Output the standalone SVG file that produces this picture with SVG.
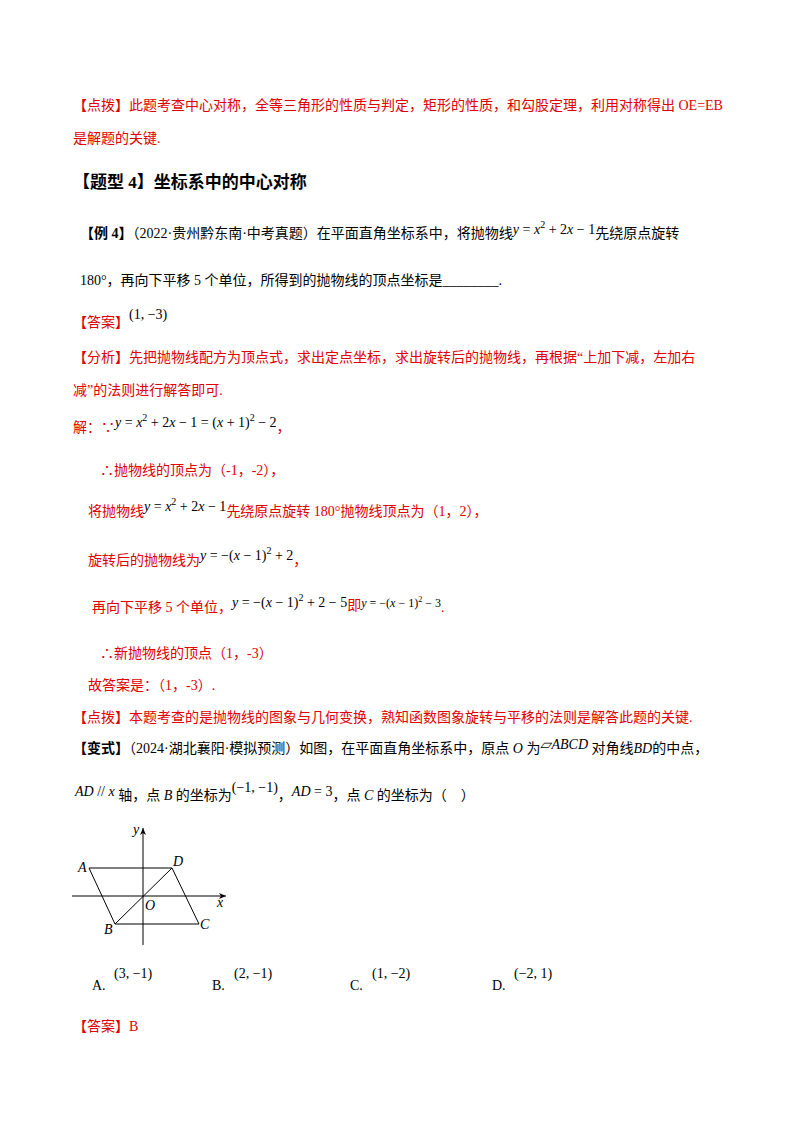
<svg xmlns="http://www.w3.org/2000/svg" width="800" height="1132" viewBox="0 0 800 1132">
<style>
text{font-family:"Liberation Serif","Noto Sans CJK SC",serif;font-size:14px;fill:#000}
.r{fill:#e00000}
.b{font-weight:bold}
.m{font-family:"Liberation Serif",serif;font-style:italic}
.n{font-family:"Liberation Serif",serif;font-style:normal}
.s{font-size:10px}
.ln{stroke:#000;stroke-width:1;fill:none}
</style>
<defs><marker id="ar" markerWidth="8" markerHeight="8" refX="7" refY="4" orient="auto"><path d="M0,1 L7,4 L0,7 L2,4 Z" fill="#000"/></marker></defs>
<rect width="800" height="1132" fill="#fff"/>
<text x="73" y="110" class="r">【点拨】此题考查中心对称，全等三角形的性质与判定，矩形的性质，和勾股定理，利用对称得出 OE=EB</text>
<text x="73" y="143" class="r">是解题的关键.</text>
<text x="73" y="188" class="b" style="font-size:17px">【题型 4】坐标系中的中心对称</text>
<text x="80" y="238"><tspan class="b">【例 4】</tspan>（2022·贵州黔东南·中考真题）在平面直角坐标系中，将抛物线<tspan class="m" dy="-4">y</tspan><tspan class="n"> = </tspan><tspan class="m">x</tspan><tspan class="s" dy="-6">2</tspan><tspan class="n" dy="6"> + 2</tspan><tspan class="m">x</tspan><tspan class="n"> − 1</tspan><tspan dy="4">先绕原点旋转</tspan></text>
<text x="80" y="285">180°，再向下平移 5 个单位，所得到的抛物线的顶点坐标是________.</text>
<text x="73" y="327" class="r">【答案】<tspan class="n" fill="#000" dy="-8">(1, −3)</tspan></text>
<text x="73" y="362" class="r">【分析】先把抛物线配方为顶点式，求出定点坐标，求出旋转后的抛物线，再根据“上加下减，左加右</text>
<text x="73" y="395" class="r">减”的法则进行解答即可.</text>
<text x="73" y="432" class="r">解：∵<tspan class="m" fill="#000" dy="-5">y</tspan><tspan class="n" fill="#000"> = </tspan><tspan class="m" fill="#000">x</tspan><tspan class="s n" fill="#000" dy="-6">2</tspan><tspan class="n" fill="#000" dy="6"> + 2</tspan><tspan class="m" fill="#000">x</tspan><tspan class="n" fill="#000"> − 1 = (</tspan><tspan class="m" fill="#000">x</tspan><tspan class="n" fill="#000"> + 1)</tspan><tspan class="s n" fill="#000" dy="-6">2</tspan><tspan class="n" fill="#000" dy="6"> − 2</tspan><tspan dy="5">，</tspan></text>
<text x="100" y="475" class="r">∴抛物线的顶点为（-1，-2），</text>
<text x="88" y="516" class="r">将抛物线<tspan class="m" fill="#000" dy="-5">y</tspan><tspan class="n" fill="#000"> = </tspan><tspan class="m" fill="#000">x</tspan><tspan class="s n" fill="#000" dy="-6">2</tspan><tspan class="n" fill="#000" dy="6"> + 2</tspan><tspan class="m" fill="#000">x</tspan><tspan class="n" fill="#000"> − 1</tspan><tspan dy="5">先绕原点旋转 180°抛物线顶点为（1，2），</tspan></text>
<text x="88" y="565" class="r">旋转后的抛物线为<tspan class="m" fill="#000" dy="-5">y</tspan><tspan class="n" fill="#000"> = −(</tspan><tspan class="m" fill="#000">x</tspan><tspan class="n" fill="#000"> − 1)</tspan><tspan class="s n" fill="#000" dy="-6">2</tspan><tspan class="n" fill="#000" dy="6"> + 2</tspan><tspan dy="5">，</tspan></text>
<text x="92" y="612" class="r">再向下平移 5 个单位，<tspan class="m" fill="#000" dy="-5">y</tspan><tspan class="n" fill="#000"> = −(</tspan><tspan class="m" fill="#000">x</tspan><tspan class="n" fill="#000"> − 1)</tspan><tspan class="s n" fill="#000" dy="-6">2</tspan><tspan class="n" fill="#000" dy="6"> + 2 − 5</tspan><tspan dy="3">即</tspan><tspan class="m" fill="#000" dy="-3" style="font-size:12px">y</tspan><tspan class="n" fill="#000" style="font-size:12px"> = −(</tspan><tspan class="m" fill="#000" style="font-size:12px">x</tspan><tspan class="n" fill="#000" style="font-size:12px"> − 1)</tspan><tspan class="s n" fill="#000" dy="-5" style="font-size:8px">2</tspan><tspan class="n" fill="#000" dy="5" style="font-size:12px"> − 3</tspan><tspan dy="5">.</tspan></text>
<text x="100" y="658" class="r">∴新抛物线的顶点（1，-3）</text>
<text x="88" y="690" class="r">故答案是：（1，-3）.</text>
<text x="73" y="722" class="r">【点拨】本题考查的是抛物线的图象与几何变换，熟知函数图象旋转与平移的法则是解答此题的关键.</text>
<text x="73" y="753"><tspan class="b">【变式】</tspan>（2024·湖北襄阳·模拟预测）如图，在平面直角坐标系中，原点 <tspan class="m">O</tspan> 为<tspan class="m" dy="-4">▱ABCD</tspan><tspan dy="4"> 对角线</tspan><tspan class="m">BD</tspan>的中点，</text>
<text x="75" y="800"><tspan class="m" dy="-4">AD</tspan><tspan class="n"> // </tspan><tspan class="m">x</tspan><tspan dy="4"> 轴，点 </tspan><tspan class="m">B</tspan> 的坐标为<tspan class="n" dy="-8">(−1, −1)</tspan><tspan dy="8">，</tspan><tspan class="m" dy="-4">AD</tspan><tspan class="n"> = 3</tspan><tspan dy="4">，点 </tspan><tspan class="m">C</tspan> 的坐标为（　）</text>
<g id="figure">
<line class="ln" x1="143" y1="945" x2="143" y2="828" marker-end="url(#ar)"/>
<line class="ln" x1="72" y1="896" x2="226" y2="896" marker-end="url(#ar)"/>
<polygon class="ln" points="89,868 172,868 199,924 115,924"/>
<line class="ln" x1="115" y1="924" x2="172" y2="868"/>
<text x="133" y="834" class="m">y</text>
<text x="217" y="907" class="m">x</text>
<text x="78" y="872" class="m">A</text>
<text x="173" y="866" class="m">D</text>
<text x="104" y="934" class="m">B</text>
<text x="200" y="929" class="m">C</text>
<text x="145" y="910" class="m">O</text>
</g>
<text x="92" y="990">A.</text><text x="114" y="978" class="n">(3, −1)</text>
<text x="212" y="990">B.</text><text x="234" y="978" class="n">(2, −1)</text>
<text x="350" y="990">C.</text><text x="372" y="978" class="n">(1, −2)</text>
<text x="492" y="990">D.</text><text x="514" y="978" class="n">(−2, 1)</text>
<text x="73" y="1031" class="r">【答案】B</text>
</svg>
